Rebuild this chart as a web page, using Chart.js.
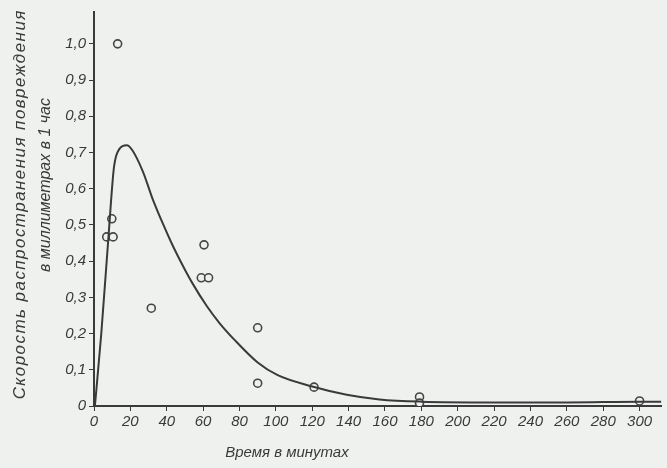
<!DOCTYPE html>
<html>
<head>
<meta charset="utf-8">
<script src="https://cdn.jsdelivr.net/npm/chart.js@4.4.1/dist/chart.umd.min.js"></script>
<style>
  html, body { margin: 0; padding: 0; background: #eff1ef; }
  #wrap { width: 667px; height: 468px; }
</style>
</head>
<body>
<div id="wrap"><canvas id="chartRate"></canvas></div>
<script>
// measured points (minutes, mm per hour)
const pointTimes = [13, 9.8, 7, 10.5, 31.5, 60.5, 59, 63, 90, 90, 121, 179, 179, 300];
const pointRates = [1.0, 0.517, 0.467, 0.467, 0.27, 0.445, 0.354, 0.354, 0.216, 0.063, 0.052, 0.025, 0.008, 0.014];

// smoothed curve drawn through the data
const curveTimes = [0.5, 4, 8, 11, 14, 18, 21, 27, 32, 38, 43, 49, 54, 62, 69, 77, 90, 101, 120, 139, 157, 180, 220, 260, 300, 312];
const curveRates = [0, 0.2, 0.47, 0.66, 0.71, 0.72, 0.707, 0.646, 0.575, 0.502, 0.446, 0.386, 0.34, 0.276, 0.229, 0.184, 0.12, 0.085, 0.054, 0.031, 0.018, 0.012, 0.01, 0.01, 0.012, 0.012];

// tick labels
const xTicks = [0, 20, 40, 60, 80, 100, 120, 140, 160, 180, 200, 220, 240, 260, 280, 300];
const yTicks = [0, 0.1, 0.2, 0.3, 0.4, 0.5, 0.6, 0.7, 0.8, 0.9, 1.0];

const xTitle = 'Время в минутах';
const yTitle = ['Скорость распространения повреждения', 'в миллиметрах в 1 час'];

const ink = '#3a3a3a';
const tickFont = { family: "'Liberation Sans', sans-serif", size: 15, style: 'italic' };

// paper background
const paperPlugin = {
    id: 'paper',
    beforeDraw(chart) {
        const c = chart.ctx;
        c.save();
        c.fillStyle = '#eff1ef';
        c.fillRect(0, 0, chart.width, chart.height);
        c.restore();
    }
};

// first y title line is widely lettered, stretch it to its length
function spacedText(c, text, x, y, length) {
    c.letterSpacing = '0px';
    const w = c.measureText(text).width;
    const extra = Math.max(0, (length - w) / text.length);
    c.letterSpacing = extra.toFixed(2) + 'px';
    c.fillText(text, x + extra / 2, y);
    c.letterSpacing = '0px';
}

const titlesPlugin = {
    id: 'titles',
    afterDraw(chart) {
        const c = chart.ctx;
        const a = chart.chartArea;
        c.save();
        c.fillStyle = ink;
        c.textAlign = 'center';
        c.textBaseline = 'middle';
        c.font = "italic 15px 'Liberation Sans', sans-serif";
        c.fillText(xTitle, a.left + (a.right - a.left) * 0.34, 453);

        c.translate(20, 205);
        c.rotate(-Math.PI / 2);
        c.font = "italic 17px 'Liberation Sans', sans-serif";
        spacedText(c, yTitle[0], 0, 0, 390);
        c.font = "italic 16px 'Liberation Sans', sans-serif";
        c.fillText(yTitle[1], 20, 26);
        c.restore();
    }
};

function initChartRate() {
    const ctx = document.getElementById('chartRate');
    const pts = pointTimes.map((t, i) => ({ x: t, y: pointRates[i] }));

    new Chart(ctx, {
        type: 'scatter',
        data: {
            datasets: [{
                type: 'line',
                data: curveTimes.map((t, i) => ({ x: t, y: curveRates[i] })),
                borderColor: ink,
                borderWidth: 2,
                pointRadius: 0,
                cubicInterpolationMode: 'monotone',
                fill: false
            }, {
                // open rings
                data: pts,
                pointRadius: 4,
                pointBorderWidth: 1.6,
                pointBorderColor: '#454545',
                pointBackgroundColor: '#eff1ef'
            }, {
                // centre dots
                data: pts,
                pointRadius: 0.9,
                pointBorderWidth: 0,
                pointBackgroundColor: '#555'
            }]
        },
        options: {
            responsive: false,
            animation: false,
            layout: { padding: { top: 12, right: 0, left: 0, bottom: 0 } },
            plugins: {
                legend: { display: false },
                tooltip: { enabled: false }
            },
            scales: {
                x: {
                    type: 'linear',
                    min: 0,
                    max: 312,
                    afterBuildTicks: s => { s.ticks = xTicks.map(v => ({ value: v })); },
                    afterFit: s => { s.height = 62; },
                    border: { display: true, color: ink, width: 2 },
                    grid: { drawOnChartArea: false, tickLength: 5, color: ink, tickColor: ink },
                    ticks: { color: ink, font: tickFont, padding: 2, maxRotation: 0, autoSkip: false }
                },
                y: {
                    min: 0,
                    max: 1.088,
                    afterBuildTicks: s => { s.ticks = yTicks.map(v => ({ value: v })); },
                    afterFit: s => { s.width = 94; },
                    border: { display: true, color: ink, width: 2 },
                    grid: { drawOnChartArea: false, tickLength: 5, color: ink, tickColor: ink },
                    ticks: {
                        color: ink,
                        font: tickFont,
                        padding: 3,
                        autoSkip: false,
                        callback: v => v === 0 ? '0' : v.toFixed(1).replace('.', ',')
                    }
                }
            }
        },
        plugins: [paperPlugin, titlesPlugin]
    });
}

document.addEventListener('DOMContentLoaded', function () {
    const c = document.getElementById('chartRate');
    c.width = 667;
    c.height = 468;
    initChartRate();
});
</script>
</body>
</html>
